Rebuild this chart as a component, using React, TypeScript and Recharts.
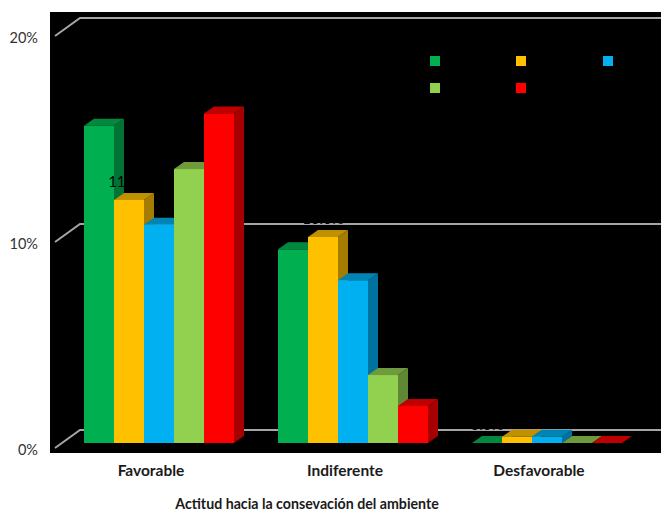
import { Bar, BarChart, CartesianGrid, Label, LabelList, Legend, XAxis, YAxis } from "recharts";

const categories = ["Favorable", "Indiferente", "Desfavorable"];
const serie1 = [15.4, 9.4, 0];
const serie2 = [11.8, 10, 0.3];
const serie3 = [10.6, 7.9, 0.3];
const serie4 = [13.3, 3.3, 0];
const serie5 = [16, 1.8, 0];
const yTicks = [0, 10, 20];

const axisTitle = "Actitud hacia la consevación del ambiente";
const FONT = "Lato, sans-serif";

// front, top and side colours of each series
const SERIES = [
  { key: "s1", values: serie1, front: "#00B050", top: "#03883F", side: "#007434", labels: true },
  { key: "s2", values: serie2, front: "#FFC000", top: "#BF9000", side: "#A67C00", labels: true },
  { key: "s3", values: serie3, front: "#00B0F0", top: "#0084B4", side: "#0072A0", labels: false },
  { key: "s4", values: serie4, front: "#92D050", top: "#6E9C3C", side: "#5F8734", labels: false },
  { key: "s5", values: serie5, front: "#FF0000", top: "#BF0000", side: "#A60000", labels: false },
];

const data = categories.map((name, i) => {
  const row: Record<string, string | number> = { name };
  SERIES.forEach((s) => {
    row[s.key] = s.values[i];
  });
  return row;
});

// depth of the fake 3D effect
const DX = 10;
const DY = 7;

function Bar3D(props: any) {
  const { x, y, width, height, front, top, side } = props;
  return (
    <g>
      <path d={`M${x + width},${y} l${DX},${-DY} v${height} l${-DX},${DY} Z`} fill={side} />
      <path d={`M${x},${y} l${DX},${-DY} h${width} l${-DX},${DY} Z`} fill={top} />
      <rect x={x} y={y} width={width} height={height} fill={front} />
    </g>
  );
}

// gridlines run along the back wall, with a slanted piece on the left
function GridLine(props: any) {
  const { y1, index } = props;
  const y = y1;
  return (
    <polyline
      key={index}
      points={`55,${y + 5} 80,${y - 13} 661,${y - 13}`}
      fill="none"
      stroke="#A6A6A6"
      strokeWidth={2}
    />
  );
}

function SwatchLegend() {
  return (
    <div style={{ display: "flex", flexWrap: "wrap", width: 260 }}>
      {SERIES.map((s) => (
        <div key={s.key} style={{ width: 86.4, height: 27 }}>
          <div style={{ width: 10, height: 10, background: s.front }} />
        </div>
      ))}
    </div>
  );
}

export default function App() {
  return (
    <div style={{ position: "absolute", left: 0, top: 0, width: 661, height: 511, background: "#fff" }}>
      <div style={{ position: "absolute", left: 50, top: 12, width: 611, height: 441, background: "#000" }} />
      <BarChart
        width={661}
        height={511}
        data={data}
        margin={{ top: 31, right: 17, bottom: 0, left: 12 }}
        barCategoryGap={22}
        barGap={0}
        style={{ position: "absolute", left: 0, top: 0 }}
      >
        <CartesianGrid vertical={false} horizontal={GridLine} />
        <XAxis
          dataKey="name"
          height={68}
          axisLine={false}
          tickLine={false}
          tickSize={0}
          tickMargin={22}
          tick={{ fill: "#1A1A1A", fontSize: 15.5, fontWeight: 700, fontFamily: FONT, dx: -8 }}
        >
          <Label
            value={axisTitle}
            position="insideBottom"
            offset={2}
            dx={-46}
            fill="#1A1A1A"
            fontSize={14.2}
            fontWeight={700}
            fontFamily={FONT}
          />
        </XAxis>
        <YAxis
          width={50}
          domain={[0, 20]}
          ticks={yTicks}
          axisLine={false}
          tickLine={false}
          tickSize={0}
          tickMargin={24}
          tickFormatter={(v) => `${v}%`}
          tick={{ fill: "#333333", fontSize: 14.5, fontFamily: FONT, dy: 7 }}
        />
        <Legend
          layout="horizontal"
          verticalAlign="middle"
          align="center"
          wrapperStyle={{ left: 430, top: 56, width: 260 }}
          content={<SwatchLegend />}
        />
        {SERIES.map((s) => (
          <Bar
            key={s.key}
            dataKey={s.key}
            isAnimationActive={false}
            fill={s.front}
            shape={<Bar3D front={s.front} top={s.top} side={s.side} />}
          >
            {s.labels && (
              <LabelList
                dataKey={s.key}
                position="top"
                offset={13}
                formatter={(v: any) => `${Number(v).toFixed(1)}%`}
                fill="#000000"
                fontSize={15}
                fontFamily={FONT}
              />
            )}
          </Bar>
        ))}
      </BarChart>
    </div>
  );
}
